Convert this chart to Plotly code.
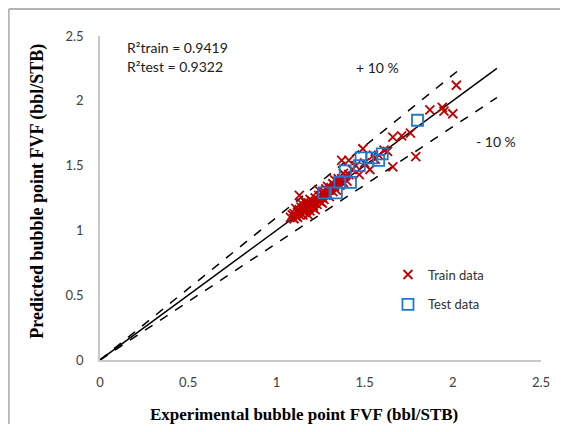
import plotly.graph_objects as go

# ---- data ----
train_x = [2.02, 1.87, 1.94, 1.95, 2.00, 1.66, 1.71, 1.76, 1.79, 1.66, 1.49, 1.63, 1.61, 1.58, 1.55,
           1.53, 1.47, 1.41, 1.37, 1.41, 1.45, 1.43, 1.50, 1.56, 1.38, 1.35, 1.13,
           1.08, 1.09, 1.10, 1.10, 1.11, 1.12, 1.12, 1.13, 1.13, 1.14, 1.14, 1.15, 1.15, 1.16, 1.16,
           1.17, 1.17, 1.18, 1.18, 1.19, 1.19, 1.20, 1.20, 1.21, 1.21, 1.22, 1.22, 1.23, 1.23, 1.24,
           1.24, 1.25, 1.25, 1.26, 1.26, 1.27, 1.27, 1.28, 1.28, 1.29, 1.30, 1.30, 1.31, 1.32, 1.32,
           1.33, 1.34, 1.35, 1.36, 1.37, 1.38, 1.39, 1.40, 1.16, 1.19, 1.14, 1.11, 1.18, 1.22,
           1.26, 1.29, 1.33, 1.24]
train_y = [2.12, 1.93, 1.95, 1.92, 1.90, 1.72, 1.73, 1.75, 1.57, 1.49, 1.63, 1.61, 1.62, 1.58, 1.58,
           1.47, 1.43, 1.43, 1.54, 1.54, 1.50, 1.47, 1.52, 1.55, 1.44, 1.40, 1.27,
           1.10, 1.12, 1.09, 1.13, 1.11, 1.14, 1.10, 1.12, 1.16, 1.13, 1.18, 1.15, 1.12, 1.17, 1.14,
           1.19, 1.15, 1.17, 1.21, 1.18, 1.15, 1.20, 1.23, 1.19, 1.17, 1.22, 1.25, 1.20, 1.24, 1.23,
           1.27, 1.22, 1.26, 1.29, 1.25, 1.24, 1.30, 1.27, 1.32, 1.28, 1.31, 1.26, 1.33, 1.30, 1.36,
           1.34, 1.31, 1.38, 1.35, 1.40, 1.37, 1.42, 1.38, 1.22, 1.24, 1.21, 1.17, 1.12, 1.16,
           1.21, 1.34, 1.39, 1.31]

test_x = [1.80, 1.60, 1.58, 1.54, 1.48, 1.47, 1.39, 1.36, 1.42, 1.27, 1.34]
test_y = [1.85, 1.59, 1.54, 1.56, 1.56, 1.50, 1.46, 1.37, 1.37, 1.29, 1.29]

line_x = [0, 2.25]
upper_x = [0, 2.03]
lower_x = [0, 2.25]

x_ticks = [0, 0.5, 1, 1.5, 2, 2.5]
y_ticks = [0, 0.5, 1, 1.5, 2, 2.5]

x_title = "Experimental bubble point FVF (bbl/STB)"
y_title = "Predicted bubble point FVF (bbl/STB)"

fig = go.Figure()

fig.add_trace(go.Scatter(x=line_x, y=line_x, mode="lines",
                         line=dict(color="black", width=1.5), showlegend=False, hoverinfo="skip"))
fig.add_trace(go.Scatter(x=upper_x, y=[v * 1.1 for v in upper_x], mode="lines",
                         line=dict(color="black", width=1.5, dash="dash"), showlegend=False))
fig.add_trace(go.Scatter(x=lower_x, y=[v * 0.9 for v in lower_x], mode="lines",
                         line=dict(color="black", width=1.5, dash="dash"), showlegend=False))

fig.add_trace(go.Scatter(x=train_x, y=train_y, mode="markers", name="Train data",
                         legendgroup="a",
                         marker=dict(symbol="x-thin", size=9, color="#c00000",
                                     line=dict(color="#c00000", width=1.8))))
fig.add_trace(go.Scatter(x=test_x, y=test_y, mode="markers", name="Test data",
                         legendgroup="b",
                         marker=dict(symbol="square-open", size=11, color="#1f78c8",
                                     line=dict(color="#1f78c8", width=1.8))))

tick_font = dict(family="Lato", size=13, color="#404040")
fig.update_xaxes(range=[0, 2.5], tickvals=x_ticks, ticktext=[f"{v:g}" for v in x_ticks],
                 showgrid=False, zeroline=False, showline=True, linecolor="#c8c8c8", linewidth=1.5,
                 ticks="", tickfont=tick_font, ticklabelstandoff=10, automargin=False)
fig.update_yaxes(range=[0, 2.5], tickvals=y_ticks, ticktext=[f"{v:g}" for v in y_ticks],
                 showgrid=False, zeroline=False, showline=True, linecolor="#c8c8c8", linewidth=1.5,
                 ticks="", tickfont=tick_font, ticklabelstandoff=12, automargin=False)

title_font = dict(family="Liberation Serif", size=17, color="black")
fig.add_annotation(x=0.463, y=-0.167, xref="paper", yref="paper", xanchor="center", yanchor="middle",
                   text=f"<b>{x_title}</b>", showarrow=False, font=title_font)
fig.add_annotation(x=-0.141, y=0.522, xref="paper", yref="paper", xanchor="center", yanchor="middle",
                   text=f"<b>{y_title}</b>", showarrow=False, textangle=-90,
                   font=dict(family="Liberation Serif", size=18, color="black"))

ann_font = dict(family="Lato", size=14, color="#202020")
fig.add_annotation(x=0.056, y=0.965, xref="paper", yref="paper", xanchor="left", yanchor="middle",
                   text="R²train = 0.9419", showarrow=False, font=ann_font)
fig.add_annotation(x=0.056, y=0.905, xref="paper", yref="paper", xanchor="left", yanchor="middle",
                   text="R²test = 0.9322", showarrow=False, font=ann_font)
fig.add_annotation(x=0.63, y=0.904, xref="paper", yref="paper", xanchor="center", yanchor="middle",
                   text="+ 10 %", showarrow=False, font=ann_font)
fig.add_annotation(x=0.898, y=0.673, xref="paper", yref="paper", xanchor="center", yanchor="middle",
                   text="- 10 %", showarrow=False, font=ann_font)

# outer frame (top and left edges)
fig.add_shape(type="line", xref="paper", yref="paper", x0=-0.207, y0=1.083, x1=1.3, y1=1.083,
              line=dict(color="#b4b4b4", width=2))
fig.add_shape(type="line", xref="paper", yref="paper", x0=-0.207, y0=1.083, x1=-0.207, y1=-0.3,
              line=dict(color="#b4b4b4", width=2))

fig.update_layout(
    width=552, height=416,
    margin=dict(l=92, r=19, t=28, b=64),
    paper_bgcolor="white", plot_bgcolor="white",
    legend=dict(x=0.653, y=0.31, xanchor="left", yanchor="top", bgcolor="rgba(0,0,0,0)",
                font=dict(family="Lato", size=13, color="#303030"), tracegroupgap=10,
                itemwidth=30),
)

fig.write_html("out.html", config={"displayModeBar": False})
